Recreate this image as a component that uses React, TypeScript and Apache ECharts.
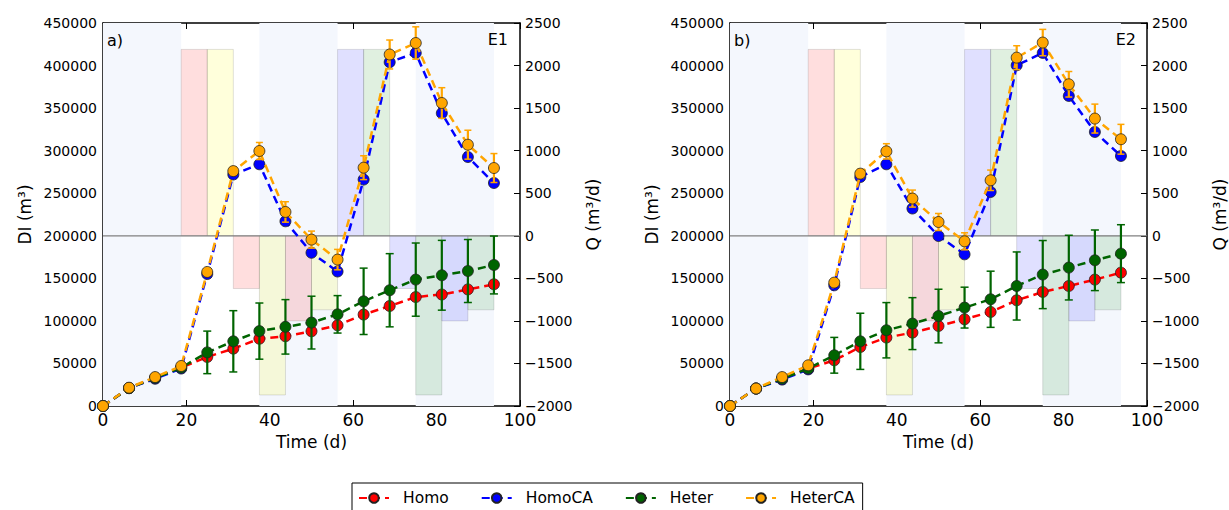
import React, { useEffect, useRef } from "react";
import * as echarts from "echarts";

// ---- data ----
const time = [0, 6.25, 12.5, 18.75, 25, 31.25, 37.5, 43.75, 50, 56.25, 62.5, 68.75, 75, 81.25, 87.5, 93.75];

const homoE1 = [0, 21000, 33000, 45000, 57600, 67400, 79000, 82000, 87800, 94800, 107400, 117500, 128000, 131000, 137000, 143000];
const homoCAE1 = [0, 21000, 32000, 44000, 155000, 272000, 284000, 217000, 180000, 158000, 266000, 404000, 414800, 344000, 292500, 262000];
const heterE1 = [0, 21000, 33000, 45000, 63000, 76000, 88000, 93000, 98000, 107700, 123000, 136000, 148500, 153600, 158600, 165700];
const heterErrE1 = [0, 0, 0, 0, 25000, 36000, 33000, 32000, 31000, 22000, 39000, 43000, 43000, 41000, 37000, 34000];
const heterCAE1 = [0, 21500, 34000, 47000, 157500, 276000, 299600, 228000, 195500, 172000, 280000, 413000, 426500, 356000, 307000, 279600];
const heterCAErrE1 = [0, 0, 0, 0, 3000, 5000, 10000, 12000, 10000, 12000, 14000, 17000, 19000, 18000, 17000, 17000];

const homoE2 = [0, 20500, 32000, 44000, 53700, 69300, 80400, 86200, 94000, 101900, 110500, 124200, 134000, 141000, 148500, 156700];
const homoCAE2 = [0, 20500, 31000, 43000, 141800, 269000, 284000, 232000, 199750, 178200, 251500, 400300, 414800, 364300, 322000, 293800];
const heterE2 = [0, 20500, 32000, 44000, 59600, 76000, 89000, 96800, 105700, 115600, 125400, 141000, 154400, 162600, 171200, 179000];
const heterErrE2 = [0, 0, 0, 0, 21000, 33000, 32500, 30500, 31500, 24000, 33000, 40000, 40000, 38000, 35600, 34000];
const heterCAE2 = [0, 20500, 34000, 47800, 145000, 273000, 299200, 243700, 216200, 193500, 265200, 409300, 427000, 378000, 337700, 313400];
const heterCAErrE2 = [0, 0, 0, 0, 3000, 5000, 9000, 10000, 10000, 10000, 12000, 14000, 15500, 15000, 17000, 17500];

// pumping rate Q (m3/d) per period
const qStart = [18.75, 25, 31.25, 37.5, 43.75, 50, 56.25, 62.5, 68.75, 75, 81.25, 87.5];
const qEnd = [25, 31.25, 37.5, 43.75, 50, 56.25, 62.5, 68.75, 75, 81.25, 87.5, 93.75];
const qFlow = [2190, 2190, -620, -1870, -1000, -870, 2190, 2190, -620, -1870, -1000, -870];
const qKind = [0, 1, 0, 1, 0, 1, 2, 3, 2, 3, 2, 3];

// light background periods
const bandStart = [0, 37.5, 75];
const bandEnd = [18.75, 56.25, 93.75];

const seriesNames = ["Homo", "HomoCA", "Heter", "HeterCA"];
const panelTags = ["a)", "b)"];
const panelExps = ["E1", "E2"];

// ---- styles ----
const FONT = "DejaVu Sans";
const Q_COLORS = ["rgba(255,0,0,0.13)", "rgba(255,255,0,0.14)", "rgba(0,0,255,0.12)", "rgba(0,128,0,0.12)"];
const BAND_COLOR = "#f4f7fd";
const COLORS = { Homo: "#ff0000", HomoCA: "#0000ff", Heter: "#006400", HeterCA: "#ffa500" };

const GRIDS = [
  { left: 103, top: 23, width: 417, height: 383 },
  { left: 730, top: 23, width: 418, height: 383 },
];

const minusFmt = (v: number) => String(v).replace("-", "\u2212");

function errorSeries(name: string, color: string, vals: number[], errs: number[], xi: number, yi: number, z: number, capHalf: number) {
  const data: number[][] = [];
  time.forEach((t, k) => {
    if (errs[k] > 0) data.push([t, vals[k] - errs[k], vals[k] + errs[k]]);
  });
  return {
    type: "custom",
    name: name + "_err",
    xAxisIndex: xi,
    yAxisIndex: yi,
    z,
    silent: true,
    encode: { x: 0, y: [1, 2] },
    data,
    renderItem: (params: any, api: any) => {
      const x = api.value(0);
      const lo = api.coord([x, api.value(1)]);
      const hi = api.coord([x, api.value(2)]);
      return {
        type: "group",
        children: [
          { type: "line", shape: { x1: lo[0], y1: lo[1], x2: hi[0], y2: hi[1] }, style: { stroke: color, lineWidth: 2.2 } },
          { type: "line", shape: { x1: lo[0] - capHalf, y1: lo[1], x2: lo[0] + capHalf, y2: lo[1] }, style: { stroke: color, lineWidth: 1.5 } },
          { type: "line", shape: { x1: hi[0] - capHalf, y1: hi[1], x2: hi[0] + capHalf, y2: hi[1] }, style: { stroke: color, lineWidth: 1.5 } },
        ],
      };
    },
  };
}

function lineSeries(name: string, vals: number[], xi: number, yi: number, z: number) {
  const color = (COLORS as any)[name];
  return {
    type: "line",
    name,
    xAxisIndex: xi,
    yAxisIndex: yi,
    z,
    data: time.map((t, k) => [t, vals[k]]),
    symbol: "circle",
    symbolSize: 11,
    showAllSymbol: true,
    itemStyle: { color, borderColor: "#222", borderWidth: 0.8 },
    lineStyle: { color, width: 2.5, type: [8, 5] },
  };
}

function buildPanel(i: number, d: any) {
  const xb = 2 * i;
  const xt = 2 * i + 1;
  const yl = 2 * i;
  const yr = 2 * i + 1;
  const axisLine = { show: true, onZero: false, lineStyle: { color: "#000", width: 1.5 } };
  const tick = { show: true, inside: true, length: 6, lineStyle: { color: "#000", width: 1 } };
  const xAxes = [
    {
      type: "value", gridIndex: i, position: "bottom", min: 0, max: 100, interval: 20,
      axisLine, axisTick: tick, splitLine: { show: false },
      axisLabel: { color: "#000", fontSize: 17, fontFamily: FONT, margin: 5, showMinLabel: true, showMaxLabel: true },
      name: "Time (d)", nameLocation: "middle", nameGap: 27,
      nameTextStyle: { color: "#000", fontSize: 17, fontFamily: FONT },
    },
    {
      type: "value", gridIndex: i, position: "top", min: 0, max: 100, interval: 20,
      axisLine, axisTick: tick, splitLine: { show: false }, axisLabel: { show: false },
    },
  ];
  const yAxes = [
    {
      type: "value", gridIndex: i, position: "left", min: 0, max: 450000, interval: 50000,
      axisLine, axisTick: tick, splitLine: { show: false },
      axisLabel: { color: "#000", fontSize: 14, fontFamily: FONT, margin: 6, formatter: (v: number) => String(v) },
      name: "DI (m\u00b3)", nameLocation: "middle", nameGap: 70, nameRotate: 90,
      nameTextStyle: { color: "#000", fontSize: 17, fontFamily: FONT },
    },
    {
      type: "value", gridIndex: i, position: "right", min: -2000, max: 2500, interval: 500,
      axisLine, axisTick: tick, splitLine: { show: false },
      axisLabel: { color: "#000", fontSize: 14, fontFamily: FONT, margin: 5, formatter: minusFmt },
      name: "Q (m\u00b3/d)", nameLocation: "middle", nameGap: 64, nameRotate: 90,
      nameTextStyle: { color: "#000", fontSize: 17, fontFamily: FONT },
    },
  ];
  const series: any[] = [
    {
      type: "custom", name: "bands" + i, xAxisIndex: xb, yAxisIndex: yl, z: 1, silent: true,
      encode: { x: [0, 1] },
      data: bandStart.map((s, k) => [s, bandEnd[k]]),
      renderItem: (params: any, api: any) => {
        const a = api.coord([api.value(0), 0]);
        const b = api.coord([api.value(1), 0]);
        const cs = params.coordSys;
        return { type: "rect", shape: { x: a[0], y: cs.y, width: b[0] - a[0], height: cs.height }, style: { fill: BAND_COLOR } };
      },
    },
    {
      type: "custom", name: "Q" + i, xAxisIndex: xb, yAxisIndex: yr, z: 2, silent: true,
      encode: { x: [0, 1], y: 2 },
      data: qStart.map((s, k) => [s, qEnd[k], qFlow[k], qKind[k]]),
      renderItem: (params: any, api: any) => {
        const a = api.coord([api.value(0), 0]);
        const b = api.coord([api.value(1), api.value(2)]);
        return {
          type: "rect",
          shape: { x: a[0], y: Math.min(a[1], b[1]), width: b[0] - a[0], height: Math.abs(b[1] - a[1]) },
          style: { fill: Q_COLORS[api.value(3)], stroke: "rgba(0,0,0,0.12)", lineWidth: 1 },
        };
      },
    },
    {
      type: "line", name: "zero" + i, xAxisIndex: xb, yAxisIndex: yr, z: 3, silent: true,
      data: [[0, 0], [100, 0]], symbol: "none",
      lineStyle: { color: "#808080", width: 1.2 },
    },
    lineSeries("Homo", d.homo, xb, yl, 4),
    lineSeries("HomoCA", d.homoCA, xb, yl, 5),
    errorSeries("Heter", COLORS.Heter, d.heter, d.heterErr, xb, yl, 6, 4),
    lineSeries("Heter", d.heter, xb, yl, 7),
    errorSeries("HeterCA", COLORS.HeterCA, d.heterCA, d.heterCAErr, xb, yl, 8, 3.5),
    lineSeries("HeterCA", d.heterCA, xb, yl, 9),
  ];
  return { xAxes, yAxes, series };
}

export default function App() {
  const ref = useRef<HTMLDivElement>(null);
  useEffect(() => {
    if (!ref.current) return;
    const chart = echarts.init(ref.current, null, { renderer: "svg" });
    const panels = [
      { homo: homoE1, homoCA: homoCAE1, heter: heterE1, heterErr: heterErrE1, heterCA: heterCAE1, heterCAErr: heterCAErrE1 },
      { homo: homoE2, homoCA: homoCAE2, heter: heterE2, heterErr: heterErrE2, heterCA: heterCAE2, heterCAErr: heterCAErrE2 },
    ];
    const built = panels.map((p, i) => buildPanel(i, p));
    const graphic: any[] = [];
    GRIDS.forEach((g, i) => {
      graphic.push({
        type: "text", x: g.left + 4, y: 40, z: 20,
        style: { text: panelTags[i], fontSize: 16, fontFamily: FONT, fill: "#000", align: "left", verticalAlign: "middle" },
      });
      graphic.push({
        type: "text", x: g.left + g.width - 12, y: 39, z: 20,
        style: { text: panelExps[i], fontSize: 16, fontFamily: FONT, fill: "#000", align: "right", verticalAlign: "middle" },
      });
    });
    chart.setOption({
      animation: false,
      backgroundColor: "#fff",
      textStyle: { fontFamily: FONT },
      grid: GRIDS.map((g) => ({ ...g, containLabel: false })),
      xAxis: built.flatMap((b) => b.xAxes),
      yAxis: built.flatMap((b) => b.yAxes),
      series: built.flatMap((b) => b.series),
      legend: {
        data: seriesNames,
        left: 352,
        top: 483,
        orient: "horizontal",
        itemWidth: 30,
        itemHeight: 12,
        itemGap: 32,
        padding: [7, 8, 8, 6],
        borderColor: "#000",
        borderWidth: 1,
        borderRadius: 0,
        selectedMode: false,
        textStyle: { color: "#000", fontSize: 15.5, fontFamily: FONT, padding: [0, 0, 0, 9] },
      },
      graphic,
    });
    return () => chart.dispose();
  }, []);
  return <div ref={ref} style={{ position: "fixed", left: 0, top: 0, width: 1229, height: 510 }} />;
}
